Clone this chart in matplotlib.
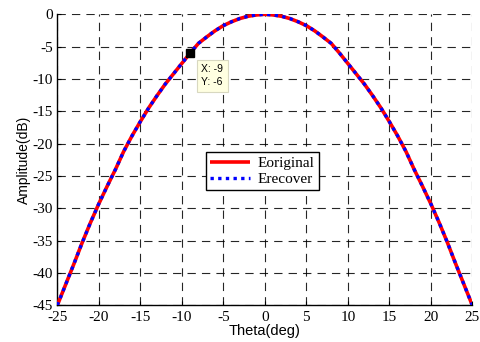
import matplotlib
matplotlib.use("Agg")
import matplotlib.pyplot as plt

plt.rcParams['axes.unicode_minus'] = False

theta = list(range(-25, 26))
half = [0, -0.1, -0.3, -0.65, -1.15, -1.75, -2.55, -3.5, -4.5, -6.0,
        -7.6, -9.2, -10.8, -12.6, -14.5, -16.6, -18.8, -21.2, -24.0, -26.6,
        -29.3, -32.2, -35.3, -38.6, -41.8, -45.0]
e_original = half[::-1] + half[1:]
e_recover = list(e_original)

xticks = [-25, -20, -15, -10, -5, 0, 5, 10, 15, 20, 25]
yticks = [0, -5, -10, -15, -20, -25, -30, -35, -40, -45]
tip_x, tip_y = -9, -6

fig = plt.figure(figsize=(4.8, 3.42), dpi=100)
ax = fig.add_axes([0.1194, 0.1073, 0.8646, 0.8509])

ax.plot(theta, e_original, color='#ff0000', lw=2.6, solid_capstyle='butt',
        label='Eoriginal', zorder=3)
ax.plot(theta, e_recover, color='#0000ff', lw=2.4, linestyle=(0, (1, 1.3)),
        label='Erecover', zorder=4)

ax.set_xlim(-25, 25)
ax.set_ylim(-45, 0)
ax.set_xticks(xticks)
ax.set_yticks(yticks)
ax.set_xticklabels([str(v) for v in xticks], family='Liberation Serif', fontsize=11)
ax.set_yticklabels([str(v) for v in yticks], family='Liberation Serif', fontsize=11)
ax.tick_params(axis='x', direction='in', length=3, width=0.8, pad=4)
ax.tick_params(axis='y', direction='in', length=3, width=0.8, pad=3)

ax.spines['top'].set_visible(False)
ax.spines['right'].set_visible(False)
ax.spines['left'].set_linewidth(1.0)
ax.spines['bottom'].set_linewidth(1.0)

ax.grid(True, color='black', linestyle=(0, (7.5, 5.5)), linewidth=0.8, alpha=0.85)
ax.set_axisbelow(True)

ax.set_xlabel('Theta(deg)', family='Liberation Sans', fontsize=10.5, labelpad=0)
ax.set_ylabel('Amplitude(dB)', family='Liberation Sans', fontsize=10, labelpad=1)

leg = ax.legend(loc='upper left', bbox_to_anchor=(0.358, 0.528),
                prop={'family': 'Liberation Serif', 'size': 11},
                handlelength=2.6, borderpad=0.3, labelspacing=0.15,
                handletextpad=0.5, borderaxespad=0, fancybox=False,
                framealpha=1)
leg.get_frame().set_edgecolor('black')
leg.get_frame().set_linewidth(1.0)

ax.plot([tip_x], [tip_y], marker='s', color='black', markersize=6, zorder=6,
        clip_on=False)
ax.annotate('X: %d\nY: %d' % (tip_x, tip_y), xy=(tip_x, tip_y),
            xytext=(8, -8), textcoords='offset points', ha='left', va='top',
            family='Liberation Sans', fontsize=7.5, linespacing=1.4,
            bbox=dict(boxstyle='square,pad=0.45', fc='#ffffe1', ec='#d8d8c0', lw=0.8),
            zorder=7)

fig.savefig('out.png', dpi=100)
